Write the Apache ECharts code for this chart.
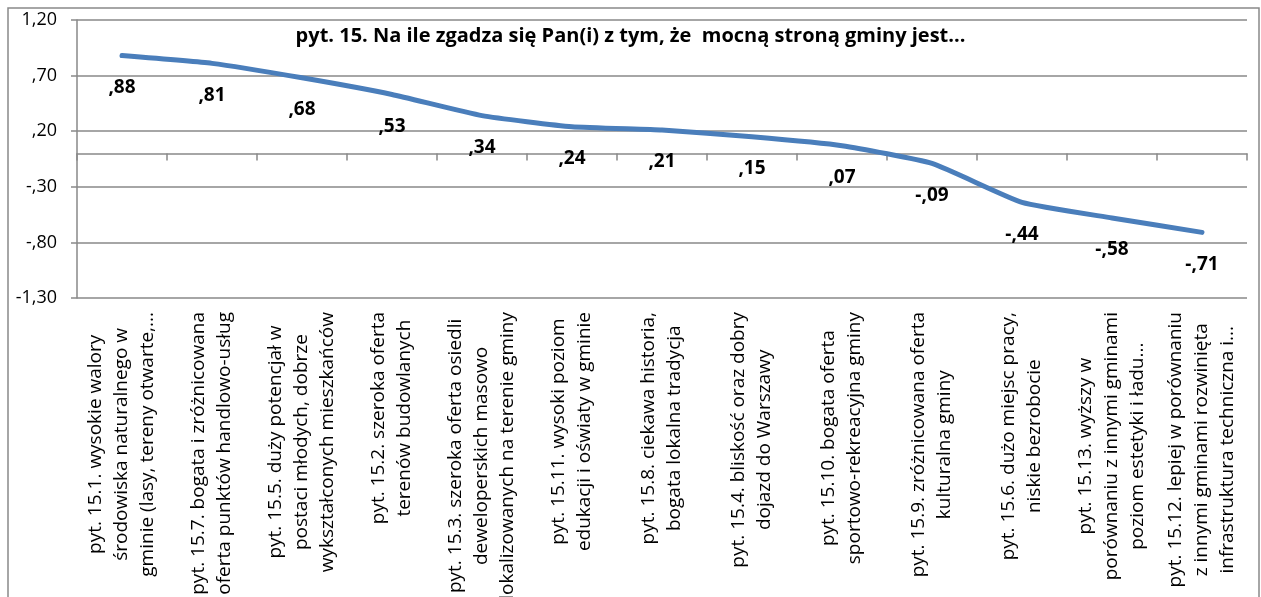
<!DOCTYPE html>
<html>
<head>
<meta charset="utf-8">
<title>pyt. 15</title>
<script src="https://cdn.jsdelivr.net/npm/echarts@6/dist/echarts.min.js"></script>
<style>
  html, body { margin: 0; padding: 0; background: #fff; }
  #chart { width: 1261px; height: 597px; }
</style>
</head>
<body>
<div id="chart"></div>
<script>
// Survey items, in the order shown (highest mean first)
const categories = [
  'pyt. 15.1. wysokie walory\nśrodowiska naturalnego w\ngminie (lasy, tereny otwarte,...',
  'pyt. 15.7. bogata i zróżnicowana\noferta punktów handlowo-usług',
  'pyt. 15.5. duży potencjał w\npostaci młodych, dobrze\nwykształconych mieszkańców',
  'pyt. 15.2. szeroka oferta\nterenów budowlanych',
  'pyt. 15.3. szeroka oferta osiedli\ndeweloperskich masowo\nlokalizowanych na terenie gminy',
  'pyt. 15.11. wysoki poziom\nedukacji i oświaty w gminie',
  'pyt. 15.8. ciekawa historia,\nbogata lokalna tradycja',
  'pyt. 15.4. bliskość oraz dobry\ndojazd do Warszawy',
  'pyt. 15.10. bogata oferta\nsportowo-rekreacyjna gminy',
  'pyt. 15.9. zróżnicowana oferta\nkulturalna gminy',
  'pyt. 15.6. dużo miejsc pracy,\nniskie bezrobocie',
  'pyt. 15.13. wyższy w\nporównaniu z innymi gminami\npoziom estetyki i ładu...',
  'pyt. 15.12. lepiej w porównaniu\nz innymi gminami rozwinięta\ninfrastruktura techniczna i...'
];

// Mean agreement per item
const means = [0.88, 0.81, 0.68, 0.53, 0.34, 0.24, 0.21, 0.15, 0.07, -0.09, -0.44, -0.58, -0.71];

// Value axis range and step
const yMin = -1.3;
const yMax = 1.2;
const yStep = 0.5;

const chartTitle = 'pyt. 15. Na ile zgadza się Pan(i) z tym, że  mocną stroną gminy jest...';

// Polish decimal comma, leading zero dropped: 0.70 -> ",70", -0.30 -> "-,30"
function fmt(v) {
  const s = Number(v).toFixed(2).replace('.', ',');
  return s.replace(/^(-?)0,/, '$1,');
}

const FONT = '"Open Sans", "Noto Sans", sans-serif';
const GRID_GRAY = '#898989';

const chart = echarts.init(document.getElementById('chart'), null, { renderer: 'canvas' });

chart.setOption({
  animation: false,
  backgroundColor: '#ffffff',
  graphic: [{
    type: 'rect',
    silent: true,
    z: -10,
    shape: { x: 8, y: 8, width: 1251, height: 700 },
    style: { fill: 'transparent', stroke: GRID_GRAY, lineWidth: 1.5 }
  }],
  title: {
    text: chartTitle,
    left: 'center',
    top: 21,
    padding: [5, 5, 5, 18],
    textStyle: { fontFamily: FONT, fontSize: 20, fontWeight: 'bold', color: '#000' }
  },
  grid: { left: 77, right: 14, top: 20, bottom: 299, outerBoundsMode: 'none' },
  xAxis: [
    {
      // axis line through zero with category boundary ticks
      type: 'category',
      data: categories,
      position: 'bottom',
      boundaryGap: true,
      axisLine: { show: true, onZero: true, lineStyle: { color: GRID_GRAY, width: 1.5 } },
      axisTick: { show: true, interval: 0, length: 7, alignWithLabel: false, lineStyle: { color: GRID_GRAY, width: 1.5 } },
      axisLabel: { show: false, interval: 0 },
      splitLine: { show: false }
    },
    {
      // category names along the bottom of the plot
      type: 'category',
      data: categories,
      position: 'bottom',
      boundaryGap: true,
      axisLine: { show: false, onZero: false },
      axisTick: { show: false },
      splitLine: { show: false },
      axisLabel: {
        show: true,
        interval: 0,
        rotate: 90,
        margin: 14,
        formatter: function (v) {
          return v.split('\n').map(function (l) { return '{c|' + l + '}'; }).join('\n');
        },
        rich: {
          c: { align: 'center', fontFamily: FONT, fontSize: 19, lineHeight: 26, color: '#000' }
        }
      }
    }
  ],
  yAxis: {
    type: 'value',
    min: yMin,
    max: yMax,
    interval: yStep,
    axisLine: { show: true, lineStyle: { color: GRID_GRAY, width: 1.5 } },
    axisTick: { show: true, length: 6, lineStyle: { color: GRID_GRAY, width: 1.5 } },
    splitLine: { show: true, lineStyle: { color: GRID_GRAY, width: 1.5 } },
    axisLabel: {
      margin: 20,
      fontFamily: FONT,
      fontSize: 18,
      color: '#000',
      formatter: fmt
    }
  },
  series: [{
    type: 'line',
    xAxisIndex: 0,
    data: means,
    smooth: 0.15,
    showSymbol: true,
    symbol: 'circle',
    symbolSize: 1,
    itemStyle: { color: 'rgba(0,0,0,0)' },
    lineStyle: { color: '#4a7ebb', width: 5, cap: 'round', join: 'round' },
    labelLayout: { hideOverlap: false },
    label: {
      show: true,
      position: 'bottom',
      distance: 22,
      fontFamily: FONT,
      fontSize: 19,
      fontWeight: 'bold',
      color: '#000',
      formatter: function (p) { return fmt(p.value); }
    }
  }]
});
</script>
</body>
</html>
